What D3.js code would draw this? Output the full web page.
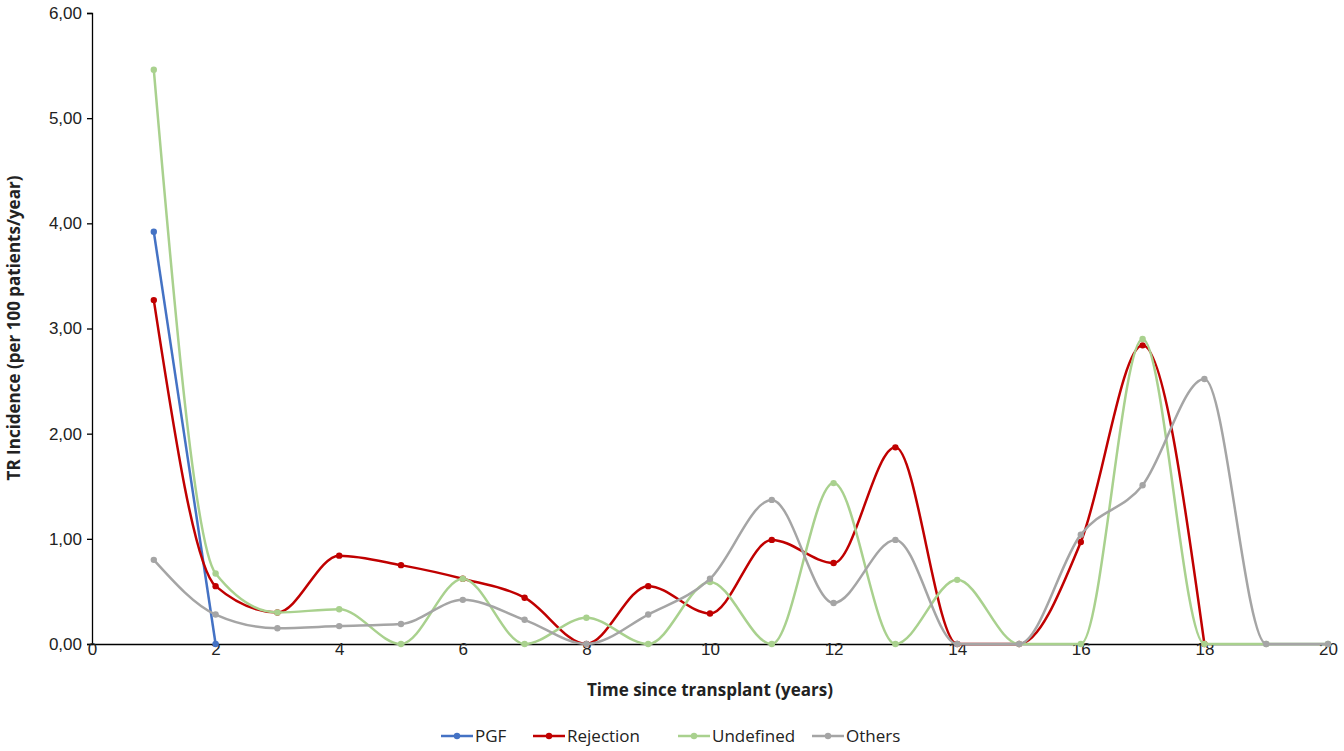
<!DOCTYPE html>
<html><head><meta charset="utf-8">
<script src="https://cdn.jsdelivr.net/npm/d3@7"></script>
<style>body{margin:0;background:#fff;font-family:"Open Sans",Arial,sans-serif}</style>
</head><body><svg id="c" width="1344" height="751"></svg>
<script>
const years=[1,2,3,4,5,6,7,8,9,10,11,12,13,14,15,16,17,18,19,20];
const pgf=[3.92,0];
const rejection=[3.27,0.55,0.30,0.84,0.75,0.62,0.44,0,0.55,0.29,0.99,0.77,1.87,0,0,0.97,2.84,0];
const undefinedS=[5.46,0.67,0.30,0.33,0,0.62,0,0.25,0,0.59,0,1.53,0,0.61,0,0,2.90,0,0,0];
const others=[0.80,0.28,0.15,0.17,0.19,0.42,0.23,0,0.28,0.62,1.37,0.39,0.99,0,0,1.04,1.51,2.52,0,0];
const xTicks=[0,2,4,6,8,10,12,14,16,18,20];
const yTicks=[0,1,2,3,4,5,6];
const series=[
 {name:"PGF",vals:pgf,color:"#4472c4"},
 {name:"Rejection",vals:rejection,color:"#c00000"},
 {name:"Undefined",vals:undefinedS,color:"#a9d18e"},
 {name:"Others",vals:others,color:"#a5a5a5"}];
const svg=d3.select("#c");
const x=d3.scaleLinear().domain([0,20]).range([92,1328]);
const y=d3.scaleLinear().domain([0,6]).range([644,13]);
const fmt=d=>d3.format(".2f")(d).replace(".",",");
const ya=svg.append("g").attr("transform","translate(92,0)").call(d3.axisLeft(y).tickValues(yTicks).tickFormat(fmt).tickSize(5));
ya.selectAll("text").attr("font-size",17).attr("fill","#222").attr("dx",-2);
const xa=svg.append("g").attr("transform","translate(0,644)").call(d3.axisBottom(x).tickValues(xTicks).tickFormat(d3.format("d")).tickSize(0));
xa.selectAll("text").attr("font-size",17).attr("fill","#222").attr("dy",8);
svg.selectAll(".domain,.tick line").attr("stroke","#000").attr("stroke-width",1.3);
svg.append("text").attr("x",(92+1328)/2).attr("y",696).attr("text-anchor","middle").attr("font-size",17).attr("font-weight","bold").attr("fill","#222").text("Time since transplant  (years)");
svg.append("text").attr("transform","translate(20,328) rotate(-90)").attr("text-anchor","middle").attr("font-size",17).attr("font-weight","bold").attr("fill","#222").text("TR Incidence (per 100 patients/year)");
const line=d3.line().x((d,i)=>x(years[i])).y(d=>y(d)).curve(d3.curveMonotoneX);
series.forEach(s=>{
 const g=svg.append("g");
 g.append("path").attr("d",line(s.vals)).attr("fill","none").attr("stroke",s.color).attr("stroke-width",2.5);
 g.selectAll("circle").data(s.vals).join("circle").attr("cx",(d,i)=>x(years[i])).attr("cy",d=>y(d)).attr("r",3.2).attr("fill",s.color);
});
const lg=svg.append("g");
const lx=[441,533,678,812];
series.forEach((s,i)=>{
 const g=lg.append("g").attr("transform",`translate(${lx[i]},736)`);
 g.append("line").attr("x1",0).attr("x2",32).attr("stroke",s.color).attr("stroke-width",2.5);
 g.append("circle").attr("cx",16).attr("r",3.2).attr("fill",s.color);
 g.append("text").attr("x",34).attr("y",6).attr("font-size",17).attr("fill","#222").text(s.name);
});
</script></body></html>
